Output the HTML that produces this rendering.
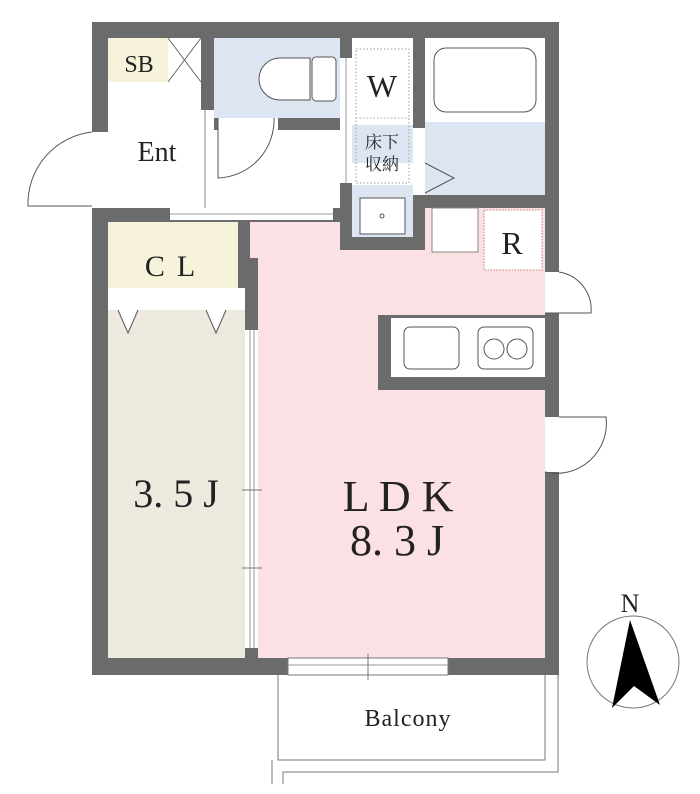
<!DOCTYPE html>
<html><head><meta charset="utf-8"><style>
body{margin:0;background:#fff}
svg{display:block}
text{font-family:"Liberation Serif","Noto Serif CJK SC",serif;fill:#222}
</style></head><body>
<svg width="700" height="794" viewBox="0 0 700 794" xmlns="http://www.w3.org/2000/svg">
<rect x="92" y="22" width="467" height="653" fill="#6b6b6b"/>
<rect x="108" y="38" width="60" height="44" fill="#f6f3da"/>
<rect x="168" y="38" width="33" height="44" fill="#fff"/>
<path d="M168 38 L201 82 M201 38 L168 82" stroke="#666" stroke-width="1"/>
<rect x="108" y="82" width="93" height="126" fill="#fff"/>
<rect x="201" y="130" width="139" height="78" fill="#fff"/>
<rect x="214" y="38" width="126" height="80" fill="#dde5f2"/>
<rect x="218" y="118" width="60" height="12" fill="#fff"/>
<rect x="352" y="38" width="61" height="199" fill="#fff"/>
<rect x="352" y="125" width="61" height="38" fill="#dde5f2"/>
<rect x="352" y="185" width="61" height="52" fill="#dde5f2"/>
<rect x="425" y="38" width="120" height="84" fill="#fff"/>
<rect x="425" y="122" width="120" height="73" fill="#dde5f2"/>
<rect x="108" y="222" width="130" height="66" fill="#f6f3da"/>
<rect x="108" y="288" width="137" height="22" fill="#fff"/>
<rect x="108" y="310" width="137" height="348" fill="#ede9df"/>
<rect x="250" y="222" width="90" height="36" fill="#fbe1e4"/>
<rect x="258" y="250" width="287" height="408" fill="#fbe1e4"/>
<rect x="425" y="208" width="120" height="50" fill="#fbe1e4"/>
<rect x="378" y="315" width="167" height="75" fill="#6b6b6b"/>
<rect x="391" y="318" width="154" height="59" fill="#fff"/>
<rect x="404" y="327" width="55" height="42" rx="6" fill="none" stroke="#555"/>
<rect x="478" y="327" width="55" height="42" rx="6" fill="none" stroke="#555"/>
<circle cx="494" cy="349" r="10" fill="none" stroke="#555"/><circle cx="517" cy="349" r="10" fill="none" stroke="#555"/>
<rect x="432" y="208" width="46" height="44" fill="#fff" stroke="#888"/>
<rect x="484" y="210" width="58" height="60" fill="#fff" stroke="#c77" stroke-dasharray="1.5 1.5"/>
<path d="M310 58 L280 58 A20 20 0 0 0 280 100 L310 100 Z" fill="#fff" stroke="#555"/>
<rect x="312" y="57" width="24" height="44" rx="4" fill="#fff" stroke="#555"/>
<rect x="434" y="48" width="102" height="64" rx="12" fill="#fff" stroke="#555"/>
<path d="M425 163 L454 178 L425 193" fill="none" stroke="#555"/>
<rect x="356" y="49" width="53" height="134" fill="none" stroke="#8a8" stroke-dasharray="1.5 2"/>
<line x1="356" y1="118" x2="409" y2="118" stroke="#aaa" stroke-dasharray="1.5 2"/>
<rect x="360" y="198" width="45" height="36" fill="#fff" stroke="#555"/>
<circle cx="382" cy="216" r="2" fill="none" stroke="#555"/>
<rect x="92" y="132" width="16" height="76" fill="#fff"/>
<rect x="201" y="110" width="13" height="98" fill="#fff"/>
<line x1="205" y1="110" x2="205" y2="208" stroke="#888"/>
<rect x="170" y="208" width="163" height="12" fill="#fff"/>
<line x1="170" y1="214" x2="333" y2="214" stroke="#999"/>
<rect x="340" y="58" width="12" height="125" fill="#fff"/>
<line x1="346" y1="58" x2="346" y2="183" stroke="#999"/>
<rect x="413" y="128" width="12" height="67" fill="#fff"/>
<rect x="245" y="330" width="13" height="318" fill="#fff"/>
<line x1="250" y1="330" x2="250" y2="648" stroke="#999"/><line x1="254" y1="330" x2="254" y2="648" stroke="#999"/>
<line x1="242" y1="490" x2="262" y2="490" stroke="#777"/><line x1="242" y1="568" x2="262" y2="568" stroke="#777"/>
<rect x="288" y="658" width="160" height="17" fill="#fff" stroke="#777"/>
<line x1="288" y1="665" x2="448" y2="665" stroke="#999"/>
<line x1="368" y1="654" x2="368" y2="680" stroke="#777"/>
<rect x="545" y="272" width="14" height="41" fill="#fff"/>
<rect x="545" y="417" width="14" height="55" fill="#fff"/>
<path d="M92 132 A72 72 0 0 0 28 206 L92 206" fill="none" stroke="#555"/>
<path d="M218 118 L218 178 A58 58 0 0 0 274 118" fill="none" stroke="#555"/>
<path d="M559 272 A38 38 0 0 1 591 313 L545 313" fill="none" stroke="#555"/>
<path d="M559 417 L606 417 A50 50 0 0 1 545 472" fill="none" stroke="#555"/>
<path d="M118 310 L128 333 L138 310 M206 310 L216 333 L226 310" fill="#fff" stroke="#555"/>
<path d="M278 675 L278 760 L545 760 L545 675 M558 675 L558 772 L283 772 L283 784" fill="none" stroke="#777"/>
<path d="M272 760 L272 784" stroke="#777"/>
<text x="139" y="72" font-size="24" text-anchor="middle">SB</text>
<text x="157" y="161" font-size="28" text-anchor="middle">Ent</text>
<text x="382" y="97" font-size="32" text-anchor="middle">W</text>
<text x="382" y="148" font-size="17" text-anchor="middle">床下</text>
<text x="382" y="170" font-size="17" text-anchor="middle">収納</text>
<text x="512" y="254" font-size="32" text-anchor="middle">R</text>
<text x="176" y="276" font-size="30" text-anchor="middle" letter-spacing="12">CL</text>
<text x="176" y="507" font-size="40" text-anchor="middle">3. 5 J</text>
<text x="398" y="511" font-size="44" text-anchor="middle">L D K</text>
<text x="397" y="555" font-size="44" text-anchor="middle">8. 3 J</text>
<text x="408" y="726" font-size="24" text-anchor="middle" letter-spacing="1">Balcony</text>
<circle cx="633" cy="662" r="46" fill="none" stroke="#777"/>
<path d="M630 620 L660 705 L634 686 L612 708 Z" fill="#000"/>
<text x="630" y="612" font-size="26" text-anchor="middle">N</text>
</svg>
</body></html>
